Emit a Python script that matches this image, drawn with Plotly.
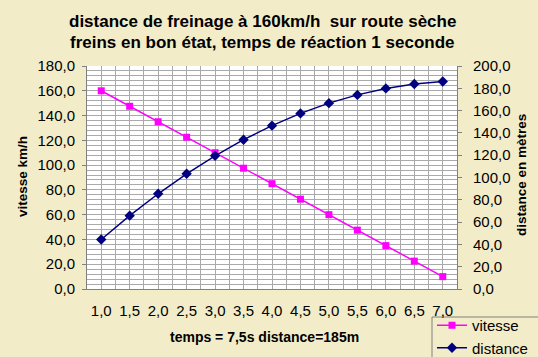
import plotly.graph_objects as go

temps = [1.0, 1.5, 2.0, 2.5, 3.0, 3.5, 4.0, 4.5, 5.0, 5.5, 6.0, 6.5, 7.0]
vitesse = [160, 147.5, 135, 122.5, 110, 97.5, 85, 72.5, 60, 47.5, 35, 22.5, 10]
distance = [44.4, 65.8, 85.4, 103.3, 119.4, 133.9, 146.5, 157.5, 166.7, 174.1, 179.9, 183.9, 186.1]

title_lines = ["distance de freinage à 160km/h  sur route sèche",
               "freins en bon état, temps de réaction 1 seconde"]
x_title = "temps = 7,5s distance=185m"
y_title = "vitesse km/h"
y2_title = "distance en mètres"

BG = "#F3ECC8"
GRID = "#A9A9A9"
FONT = "Liberation Sans, Arial, sans-serif"

fig = go.Figure()
fig.add_trace(go.Scatter(
    x=temps, y=vitesse, name="vitesse", mode="lines+markers",
    line=dict(color="#FF00FF", width=1.5),
    marker=dict(symbol="square", size=7, color="#FF00FF"),
    yaxis="y"))
fig.add_trace(go.Scatter(
    x=temps, y=distance, name="distance", mode="lines+markers",
    line=dict(color="#000080", width=1.5),
    marker=dict(symbol="diamond", size=8, color="#000080"),
    yaxis="y2"))

L, R, T, B = 87, 81, 66, 68
W, H = 538, 357
pw, ph = W - L - R, H - T - B

def px2paper_x(x):
    return (x - L) / pw

def px2paper_y(y):
    return (H - B - y) / ph

tick_font = dict(family=FONT, size=15, color="#000000")

fig.update_layout(
    width=W, height=H,
    margin=dict(l=L, r=R, t=T, b=B, autoexpand=False),
    paper_bgcolor=BG, plot_bgcolor="#FFFFFF",
    separators=", ",
    font=dict(family=FONT, color="#000000"),
    showlegend=True,
    legend=dict(
        x=px2paper_x(432), y=px2paper_y(309), xanchor="left", yanchor="top",
        bgcolor="rgba(0,0,0,0)", borderwidth=0,
        font=dict(family=FONT, size=15, color="#000000"),
        itemwidth=30, tracegroupgap=0,
    ),
    xaxis=dict(
        range=[0.75, 7.25], tickmode="linear", tick0=1, dtick=0.5,
        tickformat=".1f", tickfont=tick_font,
        showgrid=True, gridcolor=GRID, gridwidth=1,
        minor=dict(tick0=0.75, dtick=0.25, showgrid=True, gridcolor=GRID, gridwidth=1),
        showline=True, linecolor="#808080", linewidth=1,
        zeroline=False, ticks="", ticklabelstandoff=8,
    ),
    yaxis=dict(
        range=[0, 180], tickmode="linear", tick0=0, dtick=20,
        tickformat=".1f", tickfont=tick_font,
        showgrid=True, gridcolor=GRID, gridwidth=1,
        minor=dict(dtick=4, showgrid=True, gridcolor=GRID, gridwidth=1),
        showline=True, linecolor="#808080", linewidth=1,
        ticks="outside", ticklen=4, tickcolor="#808080",
        zeroline=False, ticklabelstandoff=4,
    ),
    yaxis2=dict(
        range=[0, 200], tickmode="linear", tick0=0, dtick=20,
        tickformat=".1f", tickfont=tick_font,
        overlaying="y", side="right", showgrid=False,
        showline=True, linecolor="#808080", linewidth=1,
        ticks="outside", ticklen=4, tickcolor="#808080",
        zeroline=False, ticklabelstandoff=8,
    ),
)

# legend frame (extends past the lower-right corner of the image, as in the reference)
fig.add_shape(type="rect", xref="paper", yref="paper", layer="below",
              x0=px2paper_x(432), x1=px2paper_x(545),
              y0=px2paper_y(317), y1=px2paper_y(365),
              line=dict(color="#808080", width=1), fillcolor=BG)

ann = []
def add_text(text, xpx, ypx, size, angle=0):
    ann.append(dict(text="<b>%s</b>" % text,
                    x=px2paper_x(xpx), y=px2paper_y(ypx),
                    xref="paper", yref="paper", xanchor="center", yanchor="middle",
                    textangle=angle, showarrow=False,
                    font=dict(family=FONT, size=size, color="#000000")))

for i, line in enumerate(title_lines):
    add_text(line, 262, 21 + 22 * i, 17)
add_text(x_title, 264, 337, 14)
add_text(y_title, 22, 177, 13.5, -90)
add_text(y2_title, 521, 175, 13.5, -90)
fig.update_layout(annotations=ann)

fig.write_html(
    "out.html",
    config={"displayModeBar": False},
    post_script="document.body.style.margin='0';document.body.style.overflow='hidden';",
)
